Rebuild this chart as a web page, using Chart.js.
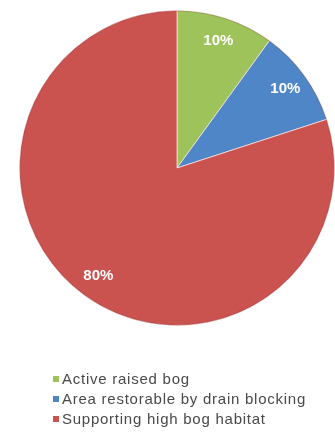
<!DOCTYPE html>
<html>
<head>
<meta charset="utf-8">
<script src="https://cdn.jsdelivr.net/npm/chart.js@4/dist/chart.umd.min.js"></script>
<style>
  html, body { margin: 0; padding: 0; background: #ffffff; }
  #wrap { position: relative; width: 335px; height: 436px; overflow: hidden; }
  #bogChart { position: absolute; left: 0; top: 0; }
  #legend { position: absolute; left: 53px; top: 369px; font-family: "Liberation Sans", Arial, sans-serif;
            font-size: 15px; letter-spacing: 0.75px; color: #4a4a4a; line-height: 20px; }
  #legend .row { display: flex; align-items: center; white-space: nowrap; }
  #legend .box { width: 6px; height: 6px; margin-right: 3px; }
</style>
</head>
<body>
<div id="wrap">
  <canvas id="bogChart" width="335" height="436"></canvas>
  <div id="legend"></div>
</div>
<script>
// Habitat share of the bog (percent)
const labels = ['Active raised bog', 'Area restorable by drain blocking', 'Supporting high bog habitat'];
const shares = [10, 10, 80];
const sliceColors = ['#9dc35a', '#4e86c8', '#ca524f'];

// percent labels inside each slice + faint dark rim round the pie
const sliceLabels = {
    id: 'sliceLabels',
    afterDatasetsDraw(chart) {
        const ctx = chart.ctx;
        const meta = chart.getDatasetMeta(0);
        const a0 = meta.data[0];
        ctx.save();
        ctx.beginPath();
        ctx.arc(a0.x, a0.y, a0.outerRadius - 0.5, 0, Math.PI * 2);
        ctx.strokeStyle = 'rgba(90,20,20,0.25)';
        ctx.lineWidth = 1;
        ctx.stroke();

        ctx.font = 'bold 15px "Liberation Sans", Arial, sans-serif';
        ctx.fillStyle = '#ffffff';
        ctx.textAlign = 'center';
        ctx.textBaseline = 'middle';
        meta.data.forEach((arc, i) => {
            const mid = (arc.startAngle + arc.endAngle) / 2;
            const r = arc.outerRadius * 0.85;
            ctx.fillText(shares[i] + '%', arc.x + Math.cos(mid) * r, arc.y + Math.sin(mid) * r);
        });
        ctx.restore();
    }
};

new Chart(document.getElementById('bogChart').getContext('2d'), {
    type: 'pie',
    data: {
        labels: labels,
        datasets: [{
            data: shares,
            backgroundColor: sliceColors,
            borderColor: 'rgba(255,235,235,0.7)',
            borderWidth: 1
        }]
    },
    options: {
        responsive: false,
        animation: false,
        layout: { padding: { left: 19, right: 0, top: 10, bottom: 110 } },
        plugins: {
            legend: { display: false },
            tooltip: { enabled: false }
        }
    },
    plugins: [sliceLabels]
});

// legend as plain text under the pie
const legendEl = document.getElementById('legend');
labels.forEach((name, i) => {
    const row = document.createElement('div');
    row.className = 'row';
    const box = document.createElement('span');
    box.className = 'box';
    box.style.background = sliceColors[i];
    const txt = document.createElement('span');
    txt.textContent = name;
    row.appendChild(box);
    row.appendChild(txt);
    legendEl.appendChild(row);
});
</script>
</body>
</html>
